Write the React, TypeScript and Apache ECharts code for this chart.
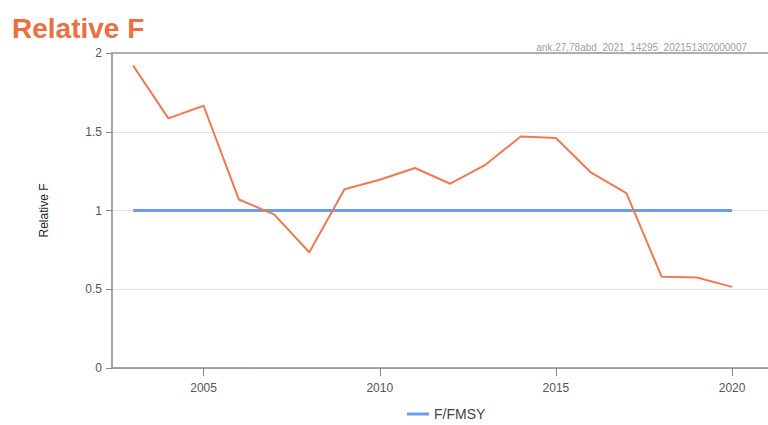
import React, { useEffect, useRef } from "react";
import * as echarts from "echarts";

const years = [2003, 2004, 2005, 2006, 2007, 2008, 2009, 2010, 2011, 2012, 2013, 2014, 2015, 2016, 2017, 2018, 2019, 2020];
const relativeF = [1.92, 1.585, 1.665, 1.07, 0.975, 0.735, 1.135, 1.195, 1.27, 1.17, 1.29, 1.47, 1.46, 1.24, 1.11, 0.58, 0.575, 0.515];
const fmsyRef = [1, 1, 1, 1, 1, 1, 1, 1, 1, 1, 1, 1, 1, 1, 1, 1, 1, 1];
const xTicks = [2005, 2010, 2015, 2020];
const title = "Relative F";
const subtitle = "ank.27.78abd_2021_14295_202151302000007";
const yName = "Relative F";
const legendName = "F/FMSY";

export default function App() {
  const ref = useRef<HTMLDivElement>(null);
  useEffect(() => {
    if (!ref.current) return;
    const chart = echarts.init(ref.current, null, { renderer: "svg" });
    chart.setOption({
      animation: false,
      backgroundColor: "#ffffff",
      title: [
        {
          text: title,
          left: 7,
          top: 9,
          textStyle: { color: "#EC6F42", fontSize: 28, fontWeight: "bold", fontFamily: "Liberation Sans" },
        },
        {
          text: subtitle,
          right: 16,
          top: 37,
          textStyle: { color: "#a0a0a0", fontSize: 10, fontWeight: "normal", fontFamily: "Liberation Sans" },
        },
      ],
      legend: {
        top: 402,
        left: 402,
        data: [{ name: legendName }],
        itemWidth: 22,
        itemHeight: 3,
        itemGap: 6,
        icon: "rect",
        textStyle: { color: "#444", fontSize: 14, fontFamily: "Liberation Sans" },
      },
      grid: {
        left: 112,
        right: 0,
        top: 53,
        bottom: 57,
        show: false,
      },
      xAxis: [
        {
          type: "value",
          min: 2002.4,
          max: 2021.02,
          axisLine: { show: true, lineStyle: { color: "#888", width: 1.5 } },
          axisTick: { show: true, customValues: xTicks, length: 8, lineStyle: { color: "#888" } },
          axisLabel: {
            customValues: xTicks,
            color: "#555",
            fontSize: 12,
            margin: 14,
            fontFamily: "Liberation Sans",
            formatter: (v: number) => String(v),
          },
          splitLine: { show: false },
        },
        {
          type: "value",
          position: "top",
          min: 2002.4,
          max: 2021.02,
          axisLine: { show: true, lineStyle: { color: "#999", width: 1.5 } },
          axisTick: { show: false },
          axisLabel: { show: false },
          splitLine: { show: false },
        },
      ],
      yAxis: {
        type: "value",
        min: 0,
        max: 2,
        interval: 0.5,
        name: yName,
        nameLocation: "middle",
        nameGap: 62,
        nameTextStyle: { color: "#222", fontSize: 12, fontFamily: "Liberation Sans" },
        axisLine: { show: true, lineStyle: { color: "#888", width: 1.5 } },
        axisTick: { show: true, length: 6, lineStyle: { color: "#888" } },
        axisLabel: { color: "#555", fontSize: 12, margin: 10, fontFamily: "Liberation Sans" },
        splitLine: { show: true, lineStyle: { color: "#e2e2e2", width: 1 } },
      },
      series: [
        {
          name: "Relative F",
          type: "line",
          xAxisIndex: 0,
          data: years.map((y, i) => [y, relativeF[i]]),
          symbol: "none",
          lineStyle: { color: "#EE7A52", width: 2 },
          itemStyle: { color: "#EE7A52" },
          z: 3,
        },
        {
          name: legendName,
          type: "line",
          xAxisIndex: 0,
          data: years.map((y, i) => [y, fmsyRef[i]]),
          symbol: "none",
          lineStyle: { color: "#6C9CEB", width: 3 },
          itemStyle: { color: "#6C9CEB" },
          z: 2,
        },
      ],
    });
    return () => chart.dispose();
  }, []);
  return <div ref={ref} style={{ width: 768, height: 425, position: "absolute", left: 0, top: 0 }} />;
}
